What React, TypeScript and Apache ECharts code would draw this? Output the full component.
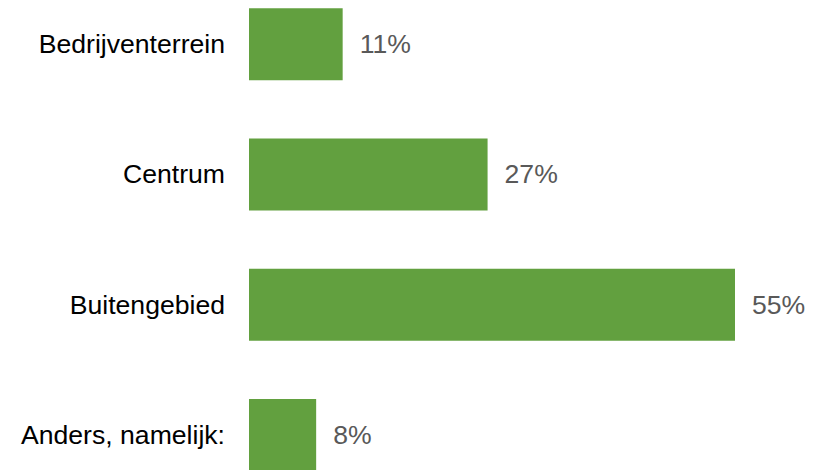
import React, { useEffect, useRef } from "react";
import * as echarts from "echarts";

const categories = ["Bedrijventerrein", "Centrum", "Buitengebied", "Anders, namelijk:"];
const values = [10.6, 27.0, 55.0, 7.6];
const barColor = "#62A03F";

export default function App() {
  const ref = useRef<HTMLDivElement>(null);
  useEffect(() => {
    document.body.style.margin = "0";
    const chart = echarts.init(ref.current!, null, { renderer: "svg" });
    chart.setOption({
      animation: false,
      grid: { left: 249, right: 88, top: 0, bottom: 0, containLabel: false },
      xAxis: {
        type: "value",
        min: 0,
        max: 55,
        show: false,
      },
      yAxis: {
        type: "category",
        inverse: true,
        data: categories,
        axisLine: { show: false },
        axisTick: { show: false },
        axisLabel: {
          margin: 24,
          color: "#000000",
          fontSize: 26.6,
          fontFamily: "Liberation Sans, Arial, sans-serif",
        },
      },
      series: [
        {
          type: "bar",
          data: values,
          barWidth: 72,
          itemStyle: { color: barColor },
          label: {
            show: true,
            position: "right",
            distance: 17,
            color: "#595959",
            fontSize: 26.6,
            fontFamily: "Liberation Sans, Arial, sans-serif",
            formatter: (p: any) => Math.round(p.value) + "%",
          },
        },
      ],
    });
    return () => chart.dispose();
  }, []);
  return (
    <div style={{ width: 823, height: 470, overflow: "hidden", position: "relative" }}>
      <div ref={ref} style={{ width: 823, height: 521, position: "absolute", left: 0, top: -21 }} />
    </div>
  );
}
